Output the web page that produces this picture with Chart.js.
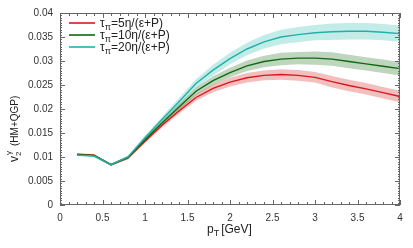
<!DOCTYPE html>
<html>
<head>
<meta charset="UTF-8" />
<title>v2 gamma vs pT</title>
<script src="https://cdn.jsdelivr.net/npm/chart.js"></script>
<style>
  html, body { margin: 0; padding: 0; background: #fff; }
  #box { width: 413px; height: 248px; }
</style>
</head>
<body>
<div id="box"><canvas id="c"></canvas></div>
<script>
  // pT grid [GeV]
  const pt = [0.2, 0.4, 0.6, 0.8, 1.0, 1.2, 1.4, 1.6, 1.8, 2.0, 2.2, 2.4, 2.6, 2.8, 3.0, 3.2, 3.4, 3.6, 3.8, 4.0];

  // v2 for the three relaxation times
  const v2Tau5  = [0.0106, 0.0104, 0.0084, 0.0098, 0.0133, 0.0166, 0.0196, 0.0224, 0.0243, 0.0256, 0.0265, 0.0270, 0.0272, 0.0270, 0.0266, 0.0257, 0.0249, 0.0242, 0.0234, 0.0226];
  const v2Tau10 = [0.0105, 0.0103, 0.0084, 0.0099, 0.0136, 0.0171, 0.0204, 0.0237, 0.0259, 0.0276, 0.0290, 0.0299, 0.0304, 0.0306, 0.0306, 0.0304, 0.0299, 0.0294, 0.0289, 0.0284];
  const v2Tau20 = [0.0104, 0.0102, 0.0084, 0.0100, 0.0140, 0.0178, 0.0215, 0.0253, 0.0281, 0.0305, 0.0325, 0.0340, 0.0350, 0.0355, 0.0359, 0.0361, 0.0362, 0.0362, 0.0360, 0.0357];

  // half width of the shaded bands
  const errTau5  = [0.0002, 0.0002, 0.0002, 0.0003, 0.0004, 0.0005, 0.0006, 0.0007, 0.0008, 0.0009, 0.0010, 0.0010, 0.0011, 0.0011, 0.0011, 0.0012, 0.0012, 0.0012, 0.0012, 0.0012];
  const errTau10 = [0.0002, 0.0002, 0.0002, 0.0003, 0.0004, 0.0005, 0.0007, 0.0008, 0.0009, 0.0010, 0.0011, 0.0012, 0.0013, 0.0013, 0.0014, 0.0014, 0.0014, 0.0014, 0.0014, 0.0014];
  const errTau20 = [0.0002, 0.0002, 0.0002, 0.0003, 0.0005, 0.0006, 0.0008, 0.0009, 0.0011, 0.0012, 0.0013, 0.0014, 0.0015, 0.0016, 0.0016, 0.0017, 0.0017, 0.0017, 0.0017, 0.0017];

  const legendNums = ['5', '10', '20'];
  const xTicks = [0, 0.5, 1, 1.5, 2, 2.5, 3, 3.5, 4];
  const yTicks = [0, 0.005, 0.01, 0.015, 0.02, 0.025, 0.03, 0.035, 0.04];

  const series = [
    { v: v2Tau5,  e: errTau5,  line: '#d7191c', band: 'rgba(220,70,70,0.35)' },
    { v: v2Tau10, e: errTau10, line: '#106810', band: 'rgba(40,115,40,0.30)' },
    { v: v2Tau20, e: errTau20, line: '#1fb2a8', band: 'rgba(40,185,175,0.28)' }
  ];

  const pts = arr => arr.map((y, i) => ({ x: pt[i], y }));
  const datasets = [];
  series.forEach(s => {
    datasets.push({ data: pts(s.v.map((y, i) => y + s.e[i])), borderWidth: 0, pointRadius: 0,
      backgroundColor: s.band, fill: '+1', tension: 0, order: 5 });
    datasets.push({ data: pts(s.v.map((y, i) => y - s.e[i])), borderWidth: 0, pointRadius: 0,
      backgroundColor: s.band, fill: false, tension: 0, order: 5 });
  });
  // later series on top (lower order is drawn last)
  series.forEach((s, i) => {
    datasets.push({ data: pts(s.v), borderColor: s.line, borderWidth: 1.4, pointRadius: 0,
      fill: false, tension: 0, order: 3 - i });
  });

  const FONT = 'Liberation Sans, Arial, sans-serif';

  const frame = {
    id: 'frame',
    afterDraw(chart) {
      const ctx = chart.ctx, xs = chart.scales.x, ys = chart.scales.y, a = chart.chartArea;
      ctx.save();
      ctx.strokeStyle = '#666';
      ctx.lineWidth = 1;
      ctx.strokeRect(a.left + 0.5, a.top + 0.5, a.right - a.left - 1, a.bottom - a.top - 1);
      ctx.beginPath();
      // x ticks, inward, bottom and top
      for (let k = 0; k <= 40; k++) {
        const px = Math.round(xs.getPixelForValue(k / 10)) + 0.5;
        const len = k % 5 === 0 ? 5 : 3;
        ctx.moveTo(px, a.bottom); ctx.lineTo(px, a.bottom - len);
        ctx.moveTo(px, a.top); ctx.lineTo(px, a.top + len);
      }
      // y ticks, inward, left and right
      for (let k = 0; k <= 80; k++) {
        const py = Math.round(ys.getPixelForValue(k * 0.0005)) + 0.5;
        const len = k % 10 === 0 ? 5 : 2;
        ctx.moveTo(a.left, py); ctx.lineTo(a.left + len, py);
        ctx.moveTo(a.right, py); ctx.lineTo(a.right - len, py);
      }
      ctx.stroke();

      // legend
      ctx.textBaseline = 'alphabetic';
      series.forEach((s, i) => {
        const y = a.top + 10 + i * 12;
        ctx.strokeStyle = s.line;
        ctx.lineWidth = 1.6;
        ctx.beginPath(); ctx.moveTo(69, y); ctx.lineTo(95, y); ctx.stroke();
        ctx.fillStyle = '#222';
        let x = 100;
        ctx.font = '12px ' + FONT;
        ctx.fillText('τ', x, y + 4); x += ctx.measureText('τ').width;
        ctx.font = '9px ' + FONT;
        ctx.fillText('π', x, y + 7); x += ctx.measureText('π').width;
        ctx.font = '12px ' + FONT;
        ctx.fillText('=' + legendNums[i] + 'η/(ε+P)', x, y + 4);
      });

      // x title
      ctx.fillStyle = '#222';
      ctx.font = '12px ' + FONT;
      let tx = (a.left + a.right) / 2 - 23;
      ctx.fillText('p', tx, 233); tx += ctx.measureText('p').width;
      ctx.font = '9px ' + FONT;
      ctx.fillText('T', tx, 236); tx += ctx.measureText('T').width + 2;
      ctx.font = '12px ' + FONT;
      ctx.fillText('[GeV]', tx, 233);

      // y title, rotated
      ctx.translate(18, 162);
      ctx.rotate(-Math.PI / 2);
      ctx.font = '12px ' + FONT;
      let ty = 0;
      ctx.fillText('v', ty, 0); ty += ctx.measureText('v').width;
      ctx.font = '8px ' + FONT;
      ctx.fillText('2', ty, 3);
      ctx.fillText('γ', ty + 1, -7); ty += ctx.measureText('γ').width + 6;
      ctx.font = '10px ' + FONT;
      ctx.fillText('(HM+QGP)', ty, 0);
      ctx.restore();
    }
  };

  new Chart(document.getElementById('c'), {
    type: 'line',
    data: { datasets },
    options: {
      responsive: true,
      maintainAspectRatio: false,
      animation: false,
      events: [],
      layout: { padding: { top: 11, right: 13, left: 0, bottom: 0 } },
      plugins: { legend: { display: false }, tooltip: { enabled: false } },
      scales: {
        x: {
          type: 'linear', min: 0, max: 4,
          afterFit(scale) { scale.height = 43; },
          afterBuildTicks(scale) { scale.ticks = xTicks.map(value => ({ value })); },
          grid: { display: false, drawTicks: false },
          border: { display: false },
          ticks: { color: '#333', padding: 7, maxRotation: 0, font: { size: 10, family: FONT },
            callback: v => String(v) }
        },
        y: {
          min: 0, max: 0.04,
          afterFit(scale) { scale.width = 60; },
          afterBuildTicks(scale) { scale.ticks = yTicks.map(value => ({ value })); },
          grid: { display: false, drawTicks: false },
          border: { display: false },
          ticks: { color: '#333', padding: 7, font: { size: 10, family: FONT },
            callback: v => String(+v.toFixed(3)) }
        }
      }
    },
    plugins: [frame]
  });
</script>
</body>
</html>
